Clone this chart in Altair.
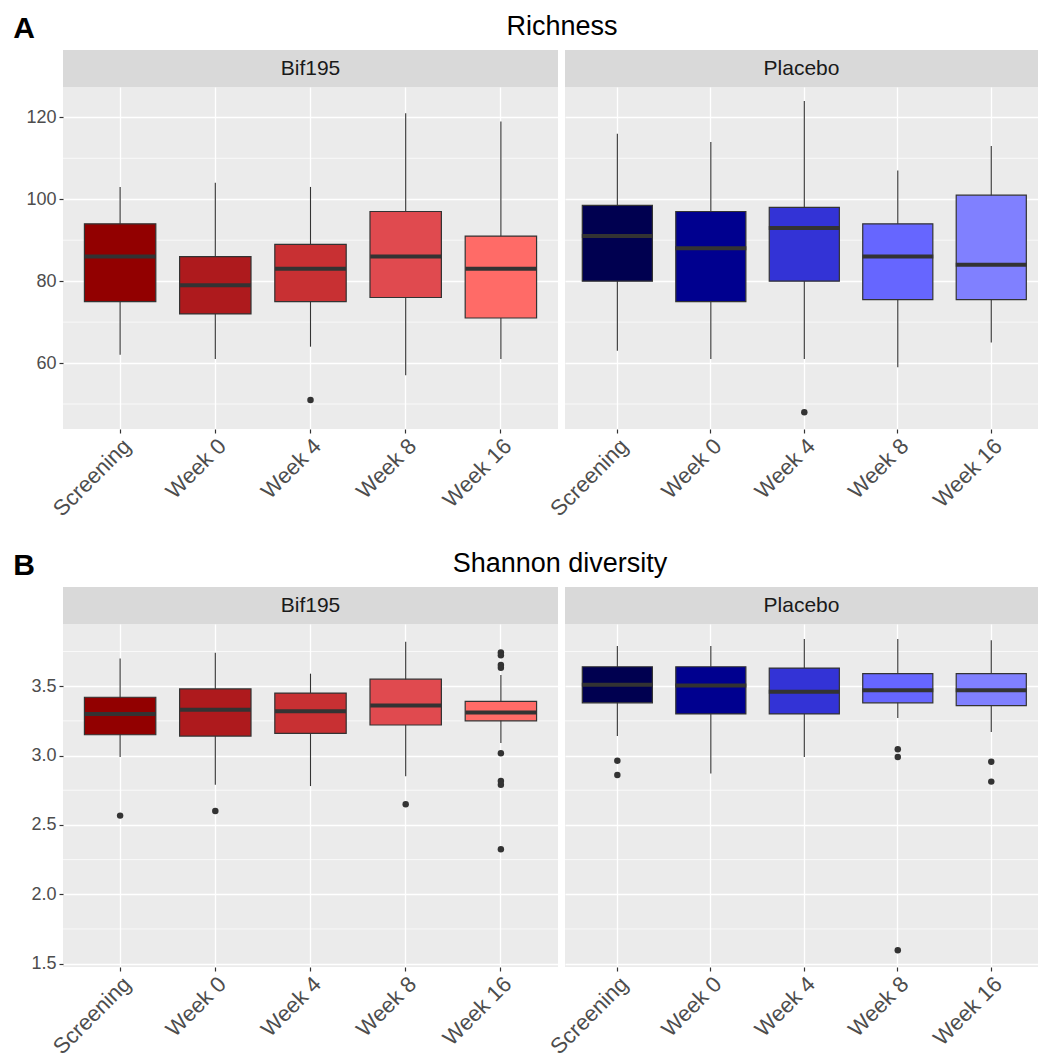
import altair as alt
import pandas as pd

times = ["Screening", "Week 0", "Week 4", "Week 8", "Week 16"]
red_colors = ["#920000", "#AE1A1D", "#C83033", "#E04A4F", "#FF6B67"]
blue_colors = ["#000050", "#00008F", "#3333D6", "#6666FF", "#8080FF"]

# Richness, Bif195
rich_bif_lo = [62, 61, 64, 57, 61]
rich_bif_q1 = [75, 72, 75, 76, 71]
rich_bif_med = [86, 79, 83, 86, 83]
rich_bif_q3 = [94, 86, 89, 97, 91]
rich_bif_hi = [103, 104, 103, 121, 119]
rich_bif_out_t = ["Week 4"]
rich_bif_out_v = [51]

# Richness, Placebo
rich_pla_lo = [63, 61, 61, 59, 65]
rich_pla_q1 = [80, 75, 80, 75.5, 75.5]
rich_pla_med = [91, 88, 93, 86, 84]
rich_pla_q3 = [98.5, 97, 98, 94, 101]
rich_pla_hi = [116, 114, 124, 107, 113]
rich_pla_out_t = ["Week 4"]
rich_pla_out_v = [48]

# Shannon, Bif195
shan_bif_lo = [2.99, 2.79, 2.78, 2.85, 3.09]
shan_bif_q1 = [3.15, 3.14, 3.16, 3.22, 3.25]
shan_bif_med = [3.30, 3.33, 3.32, 3.36, 3.31]
shan_bif_q3 = [3.42, 3.48, 3.45, 3.55, 3.39]
shan_bif_hi = [3.70, 3.74, 3.59, 3.82, 3.58]
shan_bif_out_t = ["Screening", "Week 0", "Week 8", "Week 16", "Week 16", "Week 16",
                  "Week 16", "Week 16", "Week 16", "Week 16", "Week 16"]
shan_bif_out_v = [2.567, 2.60, 2.649, 3.742, 3.723, 3.653, 3.632, 3.017, 2.816, 2.79, 2.325]

# Shannon, Placebo
shan_pla_lo = [3.14, 2.87, 2.99, 3.27, 3.17]
shan_pla_q1 = [3.38, 3.30, 3.30, 3.38, 3.36]
shan_pla_med = [3.51, 3.505, 3.46, 3.47, 3.47]
shan_pla_q3 = [3.64, 3.64, 3.63, 3.59, 3.59]
shan_pla_hi = [3.79, 3.79, 3.84, 3.84, 3.83]
shan_pla_out_t = ["Screening", "Screening", "Week 8", "Week 8", "Week 8", "Week 16", "Week 16"]
shan_pla_out_v = [2.963, 2.86, 3.045, 2.989, 1.596, 2.956, 2.812]

rich_domain = [43.9, 127.4]
rich_major = [60, 80, 100, 120]
rich_minor = [50, 70, 90, 110]
shan_domain = [1.476, 3.948]
shan_major = [1.5, 2.0, 2.5, 3.0, 3.5]
shan_minor = [1.75, 2.25, 2.75, 3.25, 3.75]

FONT = "Liberation Sans"
DARK = "#333333"


def panel(lo, q1, med, q3, hi, out_t, out_v, colors, domain, major, minor,
          strip, width, height, left, po, align, fmt, texts):
    box = pd.DataFrame({"time": times, "lo": lo, "q1": q1, "med": med, "q3": q3, "hi": hi})
    out = pd.DataFrame({"time": out_t, "v": out_v})
    mn = pd.DataFrame({"m": minor})
    xscale = alt.Scale(domain=times, paddingInner=0, paddingOuter=po, align=align)
    yscale = alt.Scale(domain=domain, nice=False, zero=False)
    xaxis = alt.Axis(title=None, labelAngle=-45, labelAlign="right", labelBaseline="top",
                     labelFontSize=22, labelPadding=2, grid=True, gridWidth=1.3,
                     bandPosition=0.5, tickWidth=1.2, labelFont=FONT)
    if left:
        yaxis = alt.Axis(title=None, values=major, labelFontSize=18, grid=True, gridWidth=1.3,
                         format=fmt, tickWidth=1.2, labelPadding=3, labelFont=FONT)
    else:
        yaxis = alt.Axis(title=None, values=major, labels=False, ticks=False, grid=True,
                         gridWidth=1.3)
    x = alt.X("time:N", sort=times, scale=xscale, axis=xaxis)

    minor_l = alt.Chart(mn).mark_rule(color="white", strokeWidth=0.7).encode(
        y=alt.Y("m:Q", scale=yscale, axis=yaxis))
    whisk = alt.Chart(box).mark_rule(color=DARK, strokeWidth=1.1).encode(
        x=x, y=alt.Y("lo:Q", scale=yscale, axis=yaxis), y2="hi:Q")
    bars = alt.Chart(box).mark_bar(width=alt.RelativeBandSize(0.75), stroke=DARK,
                                   strokeWidth=1.2).encode(
        x=x, y=alt.Y("q1:Q", scale=yscale, axis=yaxis), y2="q3:Q",
        color=alt.Color("time:N", scale=alt.Scale(domain=times, range=colors), legend=None))
    meds = alt.Chart(box).mark_tick(color=DARK, size=71, thickness=4, opacity=1).encode(
        x=x, y=alt.Y("med:Q", scale=yscale, axis=yaxis))
    pts = alt.Chart(out).mark_circle(color=DARK, size=42, opacity=1).encode(
        x=x, y=alt.Y("v:Q", scale=yscale, axis=yaxis))
    sdf = pd.DataFrame({"label": [strip]})
    srect = alt.Chart(sdf).mark_rect(color="#D9D9D9").encode(
        x=alt.value(0), x2=alt.value(width), y=alt.value(-37), y2=alt.value(0))
    stext = alt.Chart(sdf).mark_text(fontSize=21, color="#1A1A1A", font=FONT,
                                     baseline="middle").encode(
        x=alt.value(width / 2), y=alt.value(-18), text="label:N")
    layers = [minor_l, whisk, bars, meds, pts, srect, stext]
    for (t, tx, ty, fs, fw) in texts:
        tdf = pd.DataFrame({"t": [t]})
        layers.append(alt.Chart(tdf).mark_text(fontSize=fs, fontWeight=fw, color="black",
                                               font=FONT, baseline="middle").encode(
            x=alt.value(tx), y=alt.value(ty), text="t:N"))
    return alt.layer(*layers).properties(width=width, height=height)


WL = 495
WR = 473

a_left = panel(rich_bif_lo, rich_bif_q1, rich_bif_med, rich_bif_q3, rich_bif_hi,
               rich_bif_out_t, rich_bif_out_v, red_colors, rich_domain, rich_major,
               rich_minor, "Bif195", WL, 342, True, 0.1, 0.5, "d",
               [("A", -39, -58, 30, "bold"), ("Richness", 499, -60, 27, "normal")])
a_right = panel(rich_pla_lo, rich_pla_q1, rich_pla_med, rich_pla_q3, rich_pla_hi,
                rich_pla_out_t, rich_pla_out_v, blue_colors, rich_domain, rich_major,
                rich_minor, "Placebo", WR, 342, False, 0.03, 1, "d", [])
b_left = panel(shan_bif_lo, shan_bif_q1, shan_bif_med, shan_bif_q3, shan_bif_hi,
               shan_bif_out_t, shan_bif_out_v, red_colors, shan_domain, shan_major,
               shan_minor, "Bif195", WL, 343, True, 0.1, 0.5, ".1f",
               [("B", -39, -58, 30, "bold"), ("Shannon diversity", 497, -60, 27, "normal")])
b_right = panel(shan_pla_lo, shan_pla_q1, shan_pla_med, shan_pla_q3, shan_pla_hi,
                shan_pla_out_t, shan_pla_out_v, blue_colors, shan_domain, shan_major,
                shan_minor, "Placebo", WR, 343, False, 0.03, 1, ".1f", [])

row_a = alt.hconcat(a_left, a_right, spacing=7, bounds="flush").resolve_scale(
    x="independent", y="independent", color="independent")
row_b = alt.hconcat(b_left, b_right, spacing=7, bounds="flush").resolve_scale(
    x="independent", y="independent", color="independent")

chart = alt.vconcat(row_a, row_b, spacing=537, bounds="flush").resolve_scale(
    x="independent", y="independent", color="independent"
).properties(
    padding={"left": 5, "top": 5, "right": 0, "bottom": 0},
    background="white",
).configure(font=FONT).configure_view(fill="#EBEBEB", stroke=None).configure_axis(
    labelColor="#4D4D4D", tickColor=DARK, tickSize=4, domain=False, gridColor="white")

chart.save("out.html", embed_options={"renderer": "svg", "actions": False})
